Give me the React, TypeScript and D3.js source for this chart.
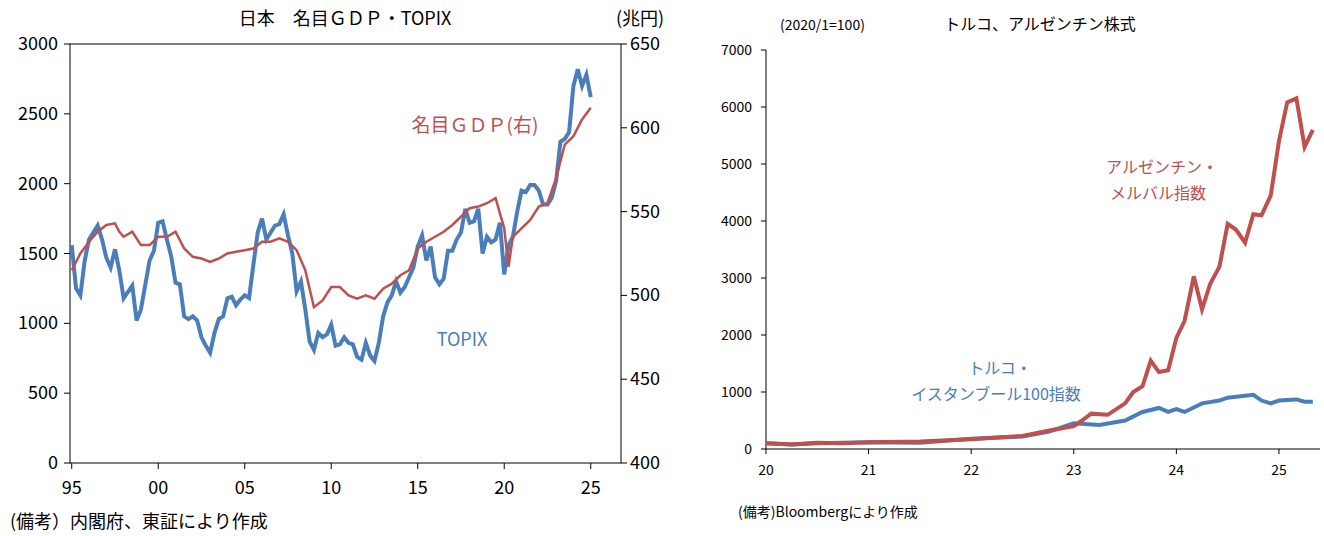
import React from "react";
import * as d3 from "d3";

const topix: [number, number][] = [[1995,1560],[1995.25,1250],[1995.5,1200],[1995.75,1450],[1996,1600],[1996.5,1700],[1996.75,1600],[1997,1470],[1997.25,1400],[1997.5,1530],[1997.75,1380],[1998,1180],[1998.5,1270],[1998.75,1020],[1999,1100],[1999.5,1450],[1999.75,1520],[2000,1720],[2000.25,1730],[2000.5,1600],[2000.75,1480],[2001,1290],[2001.25,1280],[2001.5,1050],[2001.75,1030],[2002,1050],[2002.25,1020],[2002.5,900],[2002.75,840],[2003,790],[2003.25,930],[2003.5,1030],[2003.75,1050],[2004,1180],[2004.25,1190],[2004.5,1130],[2004.75,1170],[2005,1200],[2005.25,1180],[2005.5,1420],[2005.75,1650],[2006,1750],[2006.25,1600],[2006.5,1650],[2006.75,1700],[2007,1710],[2007.25,1780],[2007.5,1630],[2007.75,1500],[2008,1230],[2008.25,1300],[2008.5,1100],[2008.75,870],[2009,810],[2009.25,930],[2009.5,900],[2009.75,920],[2010,990],[2010.25,840],[2010.5,850],[2010.75,900],[2011,860],[2011.25,850],[2011.5,760],[2011.75,740],[2012,860],[2012.25,770],[2012.5,730],[2012.75,860],[2013,1050],[2013.25,1150],[2013.5,1200],[2013.75,1300],[2014,1220],[2014.25,1260],[2014.5,1330],[2014.75,1400],[2015,1550],[2015.25,1630],[2015.5,1450],[2015.75,1550],[2016,1330],[2016.25,1280],[2016.5,1320],[2016.75,1520],[2017,1520],[2017.25,1600],[2017.5,1650],[2017.75,1820],[2018,1720],[2018.25,1730],[2018.5,1820],[2018.75,1500],[2019,1620],[2019.25,1580],[2019.5,1600],[2019.75,1720],[2020,1350],[2020.25,1560],[2020.5,1620],[2020.75,1800],[2021,1950],[2021.25,1940],[2021.5,1990],[2021.75,1990],[2022,1950],[2022.25,1850],[2022.5,1850],[2022.75,1900],[2023,2020],[2023.25,2300],[2023.5,2320],[2023.75,2370],[2024,2700],[2024.25,2820],[2024.5,2700],[2024.75,2780],[2025,2620]];
const gdp: [number, number][] = [[1995,515],[1995.5,525],[1996,532],[1996.5,538],[1997,542],[1997.5,543],[1997.75,538],[1998,535],[1998.5,538],[1999,530],[1999.5,530],[2000,535],[2000.5,535],[2001,538],[2001.5,528],[2002,523],[2002.5,522],[2003,520],[2003.5,522],[2004,525],[2004.5,526],[2005,527],[2005.5,528],[2006,532],[2006.5,532],[2007,534],[2007.5,532],[2008,527],[2008.5,515],[2009,493],[2009.5,497],[2010,505],[2010.5,505],[2011,500],[2011.5,498],[2012,500],[2012.5,498],[2013,504],[2013.5,507],[2014,512],[2014.5,515],[2015,528],[2015.5,532],[2016,535],[2016.5,538],[2017,542],[2017.5,547],[2018,552],[2018.5,553],[2019,555],[2019.5,558],[2020,540],[2020.25,517],[2020.5,535],[2021,540],[2021.5,545],[2022,553],[2022.5,555],[2023,570],[2023.5,590],[2024,595],[2024.5,605],[2025,612]];
const argentina: [number, number][] = [[2020,100],[2020.25,80],[2020.5,110],[2020.75,100],[2021,120],[2021.5,130],[2022,170],[2022.25,200],[2022.5,230],[2022.75,320],[2023,400],[2023.08,500],[2023.17,620],[2023.33,600],[2023.5,800],[2023.58,1000],[2023.67,1100],[2023.75,1550],[2023.83,1350],[2023.92,1380],[2024,1950],[2024.08,2250],[2024.17,3030],[2024.25,2450],[2024.33,2900],[2024.42,3200],[2024.5,3950],[2024.58,3850],[2024.67,3620],[2024.75,4120],[2024.83,4100],[2024.92,4450],[2025,5400],[2025.08,6080],[2025.17,6150],[2025.25,5300],[2025.33,5600]];
const turkey: [number, number][] = [[2020,100],[2020.25,80],[2020.5,100],[2021,120],[2021.5,110],[2022,180],[2022.5,220],[2022.75,300],[2023,450],[2023.25,420],[2023.5,500],[2023.67,650],[2023.83,720],[2023.92,650],[2024,700],[2024.08,650],[2024.25,800],[2024.42,850],[2024.5,900],[2024.75,950],[2024.83,850],[2024.92,800],[2025,850],[2025.17,870],[2025.25,830],[2025.33,830]];
const leftYTicks = [0,500,1000,1500,2000,2500,3000];
const rightYTicks = [400,450,500,550,600,650];
const leftXTicks = [1995,2000,2005,2010,2015,2020,2025];
const rYTicks = [0,1000,2000,3000,4000,5000,6000,7000];
const rXTicks = [2020,2021,2022,2023,2024,2025];

const BLUE = "#4a7ebb", RED = "#c0504d", FONT = "'Noto Sans CJK JP', 'Noto Sans', sans-serif";

export default function App() {
  const x1 = d3.scaleLinear().domain([1994.9, 2026.75]).range([70, 621]);
  const y1 = d3.scaleLinear().domain([0, 3000]).range([463, 44]);
  const y1r = d3.scaleLinear().domain([400, 650]).range([463, 44]);
  const x2 = d3.scaleLinear().domain([2020, 2025.4]).range([766, 1320]);
  const y2 = d3.scaleLinear().domain([0, 7000]).range([449, 50]);
  const l1 = d3.line<[number, number]>().x(d => x1(d[0])).y(d => y1(d[1]));
  const l1r = d3.line<[number, number]>().x(d => x1(d[0])).y(d => y1r(d[1]));
  const l2 = d3.line<[number, number]>().x(d => x2(d[0])).y(d => y2(d[1]));
  return (
    <svg width={1324} height={536} style={{ position: "absolute", left: 0, top: 0, fontFamily: FONT }}>
      <rect width={1324} height={536} fill="#fff" />
      <text x={345} y={25} fontSize={18} textAnchor="middle">日本　名目ＧＤＰ・TOPIX</text>
      <text x={640} y={25} fontSize={18} textAnchor="middle">(兆円)</text>
      <rect x={70} y={44} width={551} height={419} fill="none" stroke="#000" strokeWidth={1} />
      {leftYTicks.map(t => <g key={t}><line x1={64} x2={70} y1={y1(t)} y2={y1(t)} stroke="#000" /><text x={58} y={y1(t) + 6} fontSize={18} textAnchor="end">{t}</text></g>)}
      {rightYTicks.map(t => <g key={t}><line x1={621} x2={627} y1={y1r(t)} y2={y1r(t)} stroke="#000" /><text x={630} y={y1r(t) + 6} fontSize={18}>{t}</text></g>)}
      {leftXTicks.map(t => <g key={t}><line x1={x1(t)} x2={x1(t)} y1={463} y2={469} stroke="#000" /><text x={x1(t)} y={494} fontSize={18} textAnchor="middle">{String(t % 100).padStart(2, "0")}</text></g>)}
      <path d={l1(topix) || ""} fill="none" stroke={BLUE} strokeWidth={4} />
      <path d={l1r(gdp) || ""} fill="none" stroke={RED} strokeWidth={2.5} />
      <text x={475} y={132} fontSize={19} fill={RED} textAnchor="middle">名目ＧＤＰ(右)</text>
      <text x={462} y={346} fontSize={18} fill={BLUE} textAnchor="middle">TOPIX</text>
      <text x={10} y={528} fontSize={18}>(備考）内閣府、東証により作成</text>

      <text x={780} y={30} fontSize={14}>(2020/1=100)</text>
      <text x={1040} y={30} fontSize={16} textAnchor="middle">トルコ、アルゼンチン株式</text>
      <line x1={766} x2={766} y1={50} y2={449} stroke="#000" />
      <line x1={766} x2={1320} y1={449} y2={449} stroke="#000" />
      {rYTicks.map(t => <g key={t}><line x1={761} x2={766} y1={y2(t)} y2={y2(t)} stroke="#000" /><text x={752} y={y2(t) + 5} fontSize={14} textAnchor="end">{t}</text></g>)}
      {rXTicks.map(t => <g key={t}><line x1={x2(t)} x2={x2(t)} y1={449} y2={454} stroke="#000" /><text x={x2(t)} y={475} fontSize={14} textAnchor="middle">{t % 100}</text></g>)}
      <path d={l2(turkey) || ""} fill="none" stroke={BLUE} strokeWidth={4} />
      <path d={l2(argentina) || ""} fill="none" stroke={RED} strokeWidth={4} />
      <text x={1162} y={173} fontSize={16} fill={RED} textAnchor="middle">アルゼンチン・</text>
      <text x={1158} y={199} fontSize={16} fill={RED} textAnchor="middle">メルバル指数</text>
      <text x={1000} y={374} fontSize={16} fill={BLUE} textAnchor="middle">トルコ・</text>
      <text x={996} y={400} fontSize={16} fill={BLUE} textAnchor="middle">イスタンブール100指数</text>
      <text x={738} y={517} fontSize={14}>(備考)Bloombergにより作成</text>
    </svg>
  );
}
